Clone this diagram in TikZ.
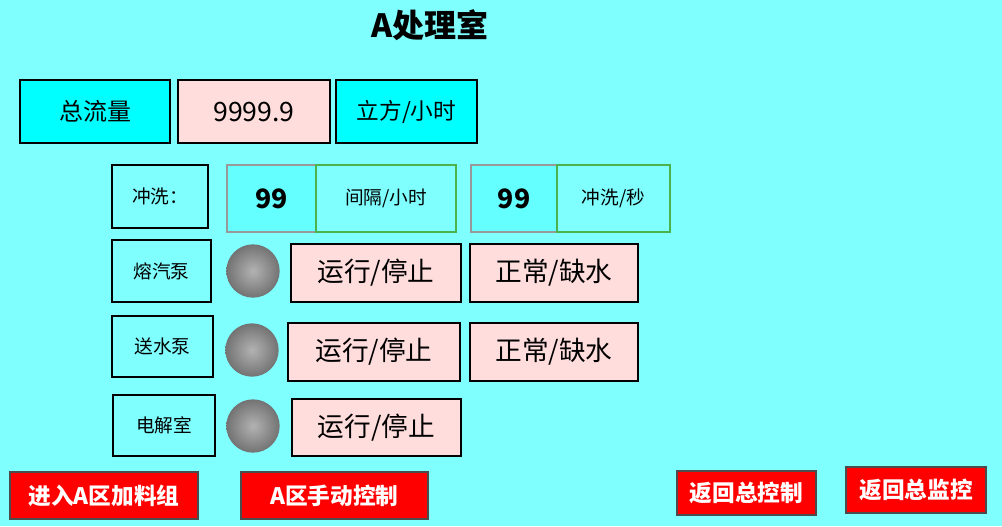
\documentclass[tikz,border=0pt]{standalone}
\usepackage{fontspec}
\setmainfont{Noto Sans CJK SC}
\definecolor{bgcyan}{RGB}{128,255,255}
\definecolor{boxcyan}{RGB}{0,255,255}
\definecolor{valcyan}{RGB}{100,255,255}
\definecolor{pinkbox}{RGB}{255,221,221}
\definecolor{btnred}{RGB}{255,0,0}
\tikzset{
    cell/.style={draw=black, line width=0.8pt, inner sep=0pt, text=black},
    btn/.style={draw=black!70, line width=1.5pt, fill=btnred, text=white, font=\bfseries\fontsize{17}{17}\selectfont},
    lamp/.style={circle, inner sep=0pt, minimum size=40pt, inner color=black!30, outer color=black!55}
}
\begin{document}
\begin{tikzpicture}[x=0.75pt, y=-0.75pt]
    \fill[bgcyan] (0,0) rectangle (1002,526);
    \useasboundingbox (0,0) rectangle (1002,526);

    \node[font=\bfseries\fontsize{24}{24}\selectfont] (title) at (430,25) {A处理室};

    % top row
    \draw[cell, fill=boxcyan] (20,80) rectangle (170,143) node[midway, font=\fontsize{18}{18}\selectfont] (total) {总流量};
    \draw[cell, fill=pinkbox] (178,80) rectangle (330,143) node[midway, font=\fontsize{20}{20}\selectfont] (totalval) {9999.9};
    \draw[cell, fill=boxcyan] (336,80) rectangle (477,143) node[midway, font=\fontsize{17}{17}\selectfont] (totalunit) {立方/小时};

    % flushing
    \draw[cell] (112,165) rectangle (208,228) node[midway, font=\fontsize{14}{14}\selectfont] (flush) {冲洗：};
    \draw[cell, draw=black!40, fill=valcyan] (227,165) rectangle (316,232) node[midway, font=\bfseries\fontsize{20}{20}\selectfont] (intval) {99};
    \draw[cell, draw=green!40!gray] (316,165) rectangle (456,232) node[midway, font=\fontsize{14}{14}\selectfont] (intunit) {间隔/小时};
    \draw[cell, draw=black!40, fill=valcyan] (471,165) rectangle (557,232) node[midway, font=\bfseries\fontsize{20}{20}\selectfont] (secval) {99};
    \draw[cell, draw=green!40!gray] (557,165) rectangle (670,232) node[midway, font=\fontsize{14}{14}\selectfont] (secunit) {冲洗/秒};

    % pumps
    \draw[cell] (112,240) rectangle (211,302) node[midway, font=\fontsize{14}{14}\selectfont] (pumpa) {熔汽泵};
    \node[lamp] (lampa) at (253,271) {};
    \draw[cell, fill=pinkbox] (291,244) rectangle (461,302) node[midway, font=\fontsize{20}{20}\selectfont] (runa) {运行/停止};
    \draw[cell, fill=pinkbox] (470,244) rectangle (638,302) node[midway, font=\fontsize{20}{20}\selectfont] (watera) {正常/缺水};

    \draw[cell] (112,316) rectangle (213,377) node[midway, font=\fontsize{14}{14}\selectfont] (pumpb) {送水泵};
    \node[lamp] (lampb) at (252,350) {};
    \draw[cell, fill=pinkbox] (288,323) rectangle (460,381) node[midway, font=\fontsize{20}{20}\selectfont] (runb) {运行/停止};
    \draw[cell, fill=pinkbox] (470,323) rectangle (638,381) node[midway, font=\fontsize{20}{20}\selectfont] (waterb) {正常/缺水};

    \draw[cell] (113,395) rectangle (215,456) node[midway, font=\fontsize{14}{14}\selectfont] (elec) {电解室};
    \node[lamp] (lampc) at (253,426) {};
    \draw[cell, fill=pinkbox] (292,399) rectangle (461,456) node[midway, font=\fontsize{20}{20}\selectfont] (runc) {运行/停止};

    % buttons
    \draw[btn] (10,472) rectangle (198,519) node[midway] (enter) {进入A区加料组};
    \draw[btn] (241,472) rectangle (428,519) node[midway] (manual) {A区手动控制};
    \draw[btn] (677,471) rectangle (816,515) node[midway] (backctl) {返回总控制};
    \draw[btn] (846,467) rectangle (986,513) node[midway] (backmon) {返回总监控};
\end{tikzpicture}
\end{document}
